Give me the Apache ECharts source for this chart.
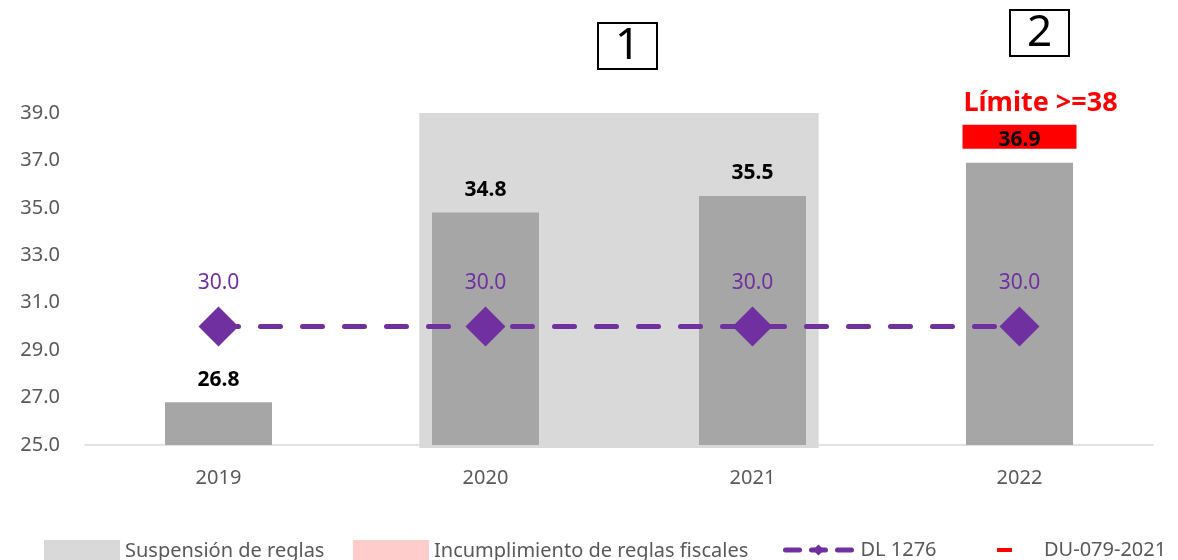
<!DOCTYPE html>
<html>
<head>
<meta charset="utf-8">
<script src="https://cdn.jsdelivr.net/npm/echarts@6/dist/echarts.min.js"></script>
<style>
  html, body { margin: 0; padding: 0; background: #fff; }
  #chart { width: 1178px; height: 560px; }
</style>
</head>
<body>
<div id="chart"></div>
<script>
// datos
const years = ['2019', '2020', '2021', '2022'];
const gasto = [26.8, 34.8, 35.5, 36.9];
const dl1276 = [30.0, 30.0, 30.0, 30.0];
const du079 = [null, null, null, 38];
const incumplimiento = [null, null, null, null];
const suspension = [['2020', '2021', 25, 39]]; // desde, hasta, ymin, ymax
const yTicks = { min: 25, max: 39, step: 2 };

const FONT = 'Noto Sans';
const GRAY_TXT = '#595959';
const LEG_TOP = 535;

const chart = echarts.init(document.getElementById('chart'));

chart.setOption({
  animation: false,
  textStyle: { fontFamily: FONT },
  grid: { left: 85, right: 25, top: 113, bottom: 115 },
  title: [
    {
      text: '1', left: 598, top: 23,
      borderColor: '#000', borderWidth: 2,
      padding: [0, 17, 0, 17],
      textStyle: { fontSize: 44, fontWeight: 'normal', color: '#000', lineHeight: 46, fontFamily: FONT }
    },
    {
      text: '2', left: 1010, top: 10,
      borderColor: '#000', borderWidth: 2,
      padding: [0, 17, 0, 17],
      textStyle: { fontSize: 44, fontWeight: 'normal', color: '#000', lineHeight: 46, fontFamily: FONT }
    }
  ],
  legend: [
    {
      data: [{ name: 'Suspensión de reglas', icon: 'rect' }],
      left: 39, top: LEG_TOP, itemWidth: 76, itemHeight: 22,
      textStyle: { fontSize: 20, color: GRAY_TXT }
    },
    {
      data: [{ name: 'Incumplimiento de reglas fiscales', icon: 'rect' }],
      left: 348, top: LEG_TOP, itemWidth: 76, itemHeight: 22,
      textStyle: { fontSize: 20, color: GRAY_TXT }
    },
    {
      data: ['DL 1276'],
      left: 778, top: LEG_TOP, itemWidth: 66, itemHeight: 14,
      lineStyle: { width: 5, type: [14, 12], cap: 'round' },
      textStyle: { fontSize: 20, color: GRAY_TXT, padding: [0, 0, 0, 4] }
    },
    {
      data: [{ name: 'DU-079-2021', icon: 'rect' }],
      left: 992, top: LEG_TOP, itemWidth: 15, itemHeight: 4,
      itemStyle: { opacity: 1 },
      textStyle: { fontSize: 20, color: GRAY_TXT, padding: [0, 0, 0, 27] }
    }
  ],
  xAxis: {
    type: 'category',
    data: years,
    axisTick: { show: false },
    axisLine: { lineStyle: { color: '#D9D9D9', width: 1.5 } },
    axisLabel: { fontSize: 20, color: GRAY_TXT, margin: 23 }
  },
  yAxis: {
    type: 'value',
    min: yTicks.min,
    max: yTicks.max,
    interval: yTicks.step,
    splitLine: { show: false },
    axisLine: { show: false },
    axisTick: { show: false },
    axisLabel: {
      fontSize: 20, color: GRAY_TXT, margin: 25,
      formatter: v => v.toFixed(1)
    }
  },
  series: [
    {
      name: 'Suspensión de reglas',
      type: 'custom',
      z: 0,
      itemStyle: { color: '#D9D9D9' },
      data: suspension.map(d => [years.indexOf(d[0]), years.indexOf(d[1]), d[2], d[3]]),
      encode: { x: [0, 1], y: [2, 3] },
      renderItem: (params, api) => {
        const p0 = api.coord([api.value(0), api.value(2)]);
        const p1 = api.coord([api.value(1), api.value(3)]);
        const pad = api.size([1, 0])[0] * 0.248;
        return {
          type: 'rect',
          shape: {
            x: p0[0] - pad,
            y: p1[1],
            width: p1[0] - p0[0] + 2 * pad,
            height: p0[1] - p1[1] + 3
          },
          style: { fill: '#D9D9D9' }
        };
      }
    },
    {
      name: 'DU-079-2021',
      type: 'scatter',
      z: 1,
      symbol: 'rect',
      symbolSize: [114, 24],
      itemStyle: { color: '#FF0000', opacity: 1 },
      data: du079,
      label: {
        show: true,
        position: 'top',
        distance: 8,
        offset: [21, 0],
        formatter: 'Límite >=38',
        color: '#FF0000',
        fontSize: 27,
        fontWeight: 'bold'
      }
    },
    {
      name: 'Gasto',
      type: 'bar',
      z: 2,
      barWidth: 107,
      barGap: '-100%',
      itemStyle: { color: '#A6A6A6' },
      data: gasto,
      label: {
        show: true,
        position: 'top',
        distance: 12,
        color: '#000',
        fontSize: 21,
        fontWeight: 'bold',
        formatter: p => p.value.toFixed(1)
      }
    },
    {
      name: 'Incumplimiento de reglas fiscales',
      type: 'bar',
      barWidth: 107,
      barGap: '-100%',
      itemStyle: { color: '#FFCCCC' },
      data: incumplimiento
    },
    {
      name: 'DL 1276',
      type: 'line',
      z: 3,
      symbol: 'diamond',
      symbolSize: 40,
      itemStyle: { color: '#7030A0' },
      lineStyle: { color: '#7030A0', width: 5, type: [20, 22], cap: 'round' },
      data: dl1276,
      label: {
        show: true,
        position: 'top',
        distance: 13,
        color: '#7030A0',
        fontSize: 21,
        formatter: p => p.value.toFixed(1)
      }
    }
  ]
});
</script>
</body>
</html>
